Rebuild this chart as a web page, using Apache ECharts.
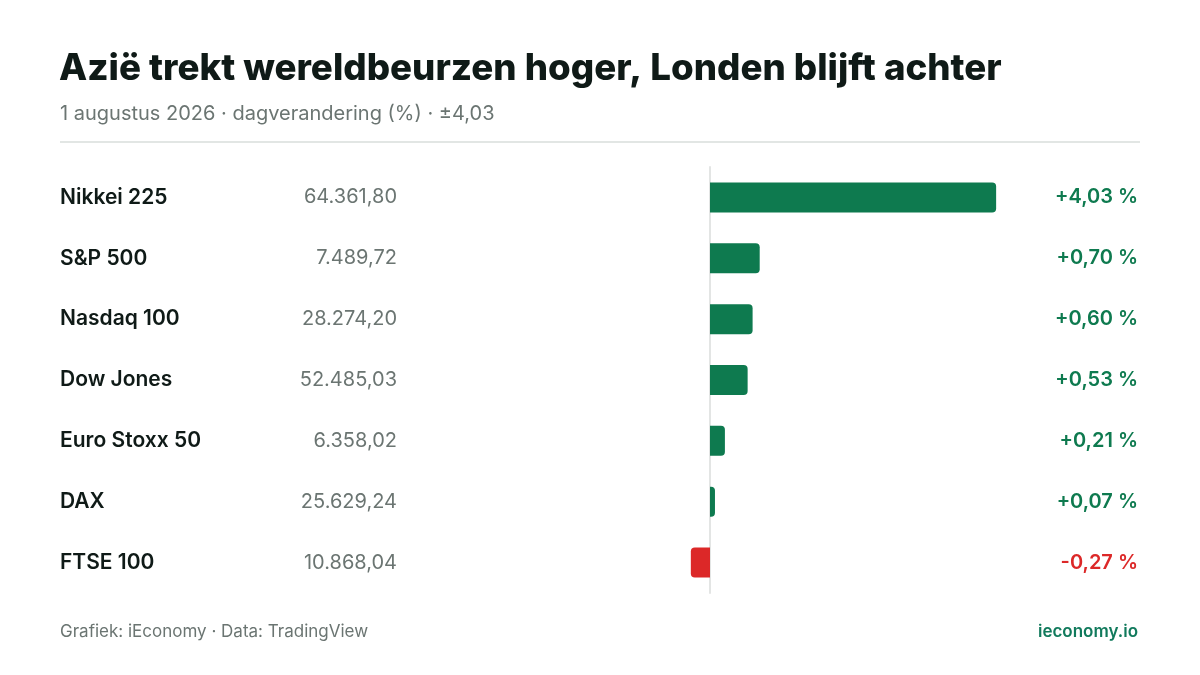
<!DOCTYPE html>
<html><head><meta charset="utf-8">
<script src="https://cdn.jsdelivr.net/npm/echarts@6/dist/echarts.min.js"></script>
<style>html,body{margin:0;padding:0;background:#fff}#c{width:1200px;height:675px}</style>
</head><body><div id="c"></div>
<script>
var indices = ['Nikkei 225','S&P 500','Nasdaq 100','Dow Jones','Euro Stoxx 50','DAX','FTSE 100'];
var levels = ['64.361,80','7.489,72','28.274,20','52.485,03','6.358,02','25.629,24','10.868,04'];
var changes = [4.03, 0.70, 0.60, 0.53, 0.21, 0.07, -0.27];

var GREEN = '#0e7a4f', RED = '#dc2828';
var FONT = 'Inter, "Noto Sans", sans-serif';
function fmt(v){ return (v>=0?'+':'-') + Math.abs(v).toFixed(2).replace('.', ',') + ' %'; }
var pctLabels = changes.map(fmt);

var chart = echarts.init(document.getElementById('c'), null, {renderer:'canvas'});
chart.setOption({
  backgroundColor:'#fff',
  animation:false,
  textStyle:{fontFamily:FONT},
  title:[
    {text:'Azië trekt wereldbeurzen hoger, Londen blijft achter', left:59, top:50, padding:0,
     textStyle:{fontFamily:FONT, fontSize:36.7, fontWeight:800, color:'#0f1a17'}},
    {text:'1 augustus 2026 · dagverandering (%) · ±4,03', left:60, top:104, padding:0,
     textStyle:{fontFamily:FONT, fontSize:20, fontWeight:400, color:'#6b7572'}},
    {text:'Grafiek: iEconomy · Data: TradingView', left:60, top:623, padding:0,
     textStyle:{fontFamily:FONT, fontSize:17, fontWeight:400, color:'#6b7572'}},
    {text:'ieconomy.io', right:62, top:623, padding:0,
     textStyle:{fontFamily:FONT, fontSize:17, fontWeight:600, color:'#117a5c'}}
  ],
  graphic:[{type:'line', shape:{x1:60,y1:142,x2:1140,y2:142}, style:{stroke:'#e2e6e4', lineWidth:2}}],
  grid:{left:639, width:426, top:167, height:426, containLabel:false},
  xAxis:{type:'value', min:-1, max:5, show:false},
  yAxis:[
    {type:'category', inverse:true, data:indices,
     axisLine:{show:true, onZero:true, lineStyle:{color:'#e3e5e4', width:2}},
     axisTick:{show:false}, axisLabel:{show:false}, splitLine:{show:false}},
    {type:'category', inverse:true, data:indices, position:'left', offset:579,
     axisLine:{show:false, onZero:false}, axisTick:{show:false},
     axisLabel:{show:true, margin:0, align:'left', padding:[8,0,0,0], fontFamily:FONT, fontSize:21, fontWeight:600, color:'#0f1a17'}},
    {type:'category', inverse:true, data:levels, position:'left', offset:242,
     axisLine:{show:false, onZero:false}, axisTick:{show:false},
     axisLabel:{show:true, margin:0, align:'right', padding:[8,0,0,0], fontFamily:FONT, fontSize:20, fontWeight:400, color:'#6b7572'}},
    {type:'category', inverse:true, data:pctLabels, position:'right', offset:73,
     axisLine:{show:false, onZero:false}, axisTick:{show:false},
     axisLabel:{show:true, margin:0, align:'right', padding:[8,0,0,0], fontFamily:FONT, fontSize:20, fontWeight:600,
       color:function(v, i){ return changes[i] >= 0 ? GREEN : RED; }}}
  ],
  series:[{
    type:'bar', yAxisIndex:0, barWidth:30,
    data:changes.map(function(v){
      return {value:v, itemStyle:{color: v>=0?GREEN:RED, borderRadius: v>=0?[0,4,4,0]:[4,0,0,4]}};
    })
  }]
});
</script></body></html>
